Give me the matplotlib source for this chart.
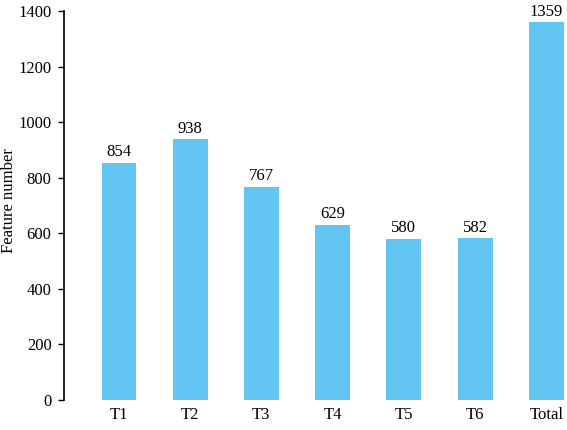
import matplotlib.pyplot as plt

# Data
groups = ["T1", "T2", "T3", "T4", "T5", "T6", "Total"]
counts = [854, 938, 767, 629, 580, 582, 1359]
yticks = [0, 200, 400, 600, 800, 1000, 1200, 1400]

plt.rcParams["font.family"] = ["Liberation Serif", "DejaVu Serif"]
plt.rcParams["font.size"] = 12

fig = plt.figure(figsize=(5.67, 4.30), dpi=100)
ax = fig.add_axes([0.1129, 0.0698, 0.887, 0.9046])

x = list(range(len(groups)))
ax.bar(x, counts, width=0.49, color="#63C5F1")
for xi, v in zip(x, counts):
    ax.text(xi, v + 10, str(v), ha="center", va="bottom")

ax.set_xlim(-0.772, 6.29)
ax.set_ylim(0, 1400)
ax.set_yticks(yticks)
ax.set_xticks(x)
ax.set_xticklabels(groups)
ax.tick_params(axis="x", length=0, pad=5)
ax.tick_params(axis="y", length=4, width=1, direction="out", pad=5)

# y label placed by hand so it stays inside the figure
fig.text(0.016, 0.533, "Feature number", rotation=90, ha="center", va="center")

for side in ["top", "right", "bottom"]:
    ax.spines[side].set_visible(False)
ax.spines["left"].set_linewidth(1.2)

fig.savefig("out.png", dpi=100)
